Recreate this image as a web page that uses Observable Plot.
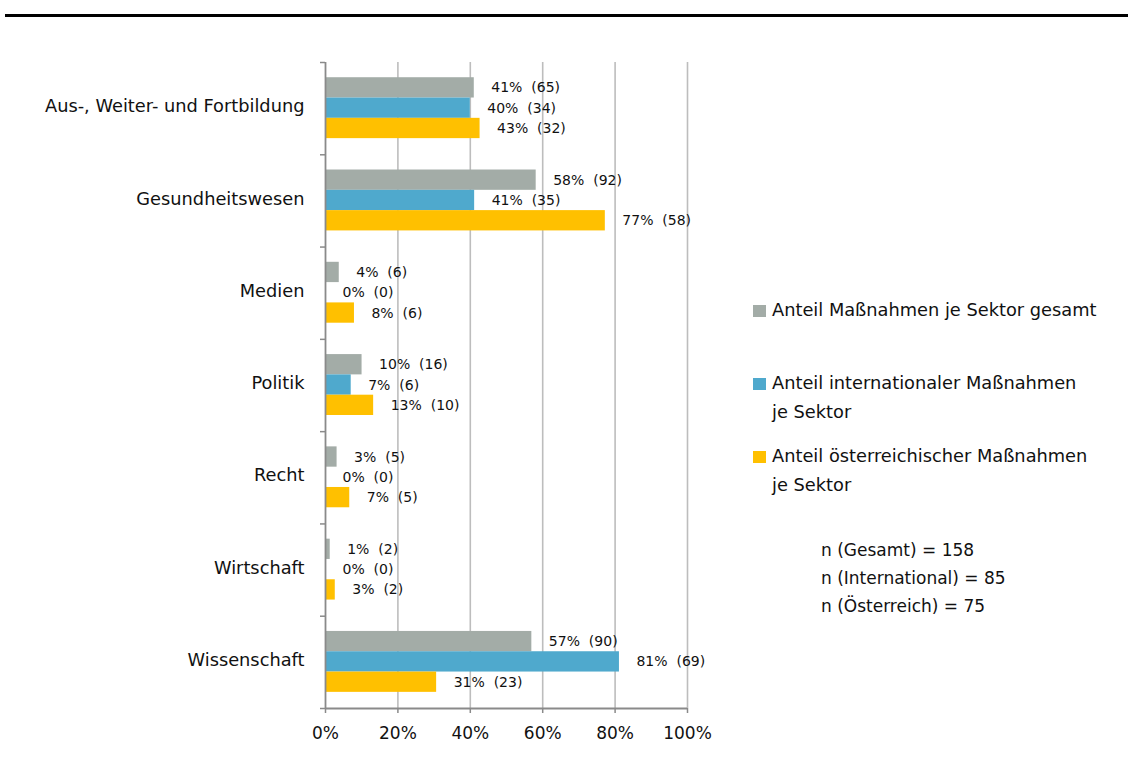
<!DOCTYPE html>
<html>
<head>
<meta charset="utf-8">
<script src="https://cdn.jsdelivr.net/npm/d3@7"></script>
<script src="https://cdn.jsdelivr.net/npm/@observablehq/plot@0.6"></script>
<style>
  html, body { margin: 0; padding: 0; background: #fff; }
  #page { position: relative; width: 1128px; height: 766px; overflow: hidden; font-family: "DejaVu Sans", sans-serif; color: #111; }
  #toprule { position: absolute; left: 5px; right: 0; top: 14px; height: 3px; background: #000; }
  #chart { position: absolute; left: 0; top: 0; }
  #chart svg text { white-space: pre; }
  .leg { position: absolute; left: 753px; font-size: 17.8px; line-height: 28.5px; white-space: nowrap; }
  .leg .sw { position: absolute; left: 0; top: 9px; width: 13px; height: 12px; }
  .leg .tx { margin-left: 19px; }
  #nblock { position: absolute; left: 821px; top: 536px; font-size: 17px; line-height: 28px; white-space: nowrap; }
</style>
</head>
<body>
<div id="page">
  <div id="toprule"></div>
  <div id="chart"></div>
  <div id="legend"></div>
  <div id="nblock"></div>
</div>
<script>
// ---- data ----
const categories = ["Aus-, Weiter- und Fortbildung", "Gesundheitswesen", "Medien", "Politik", "Recht", "Wirtschaft", "Wissenschaft"];
const seriesNames = ["Anteil Maßnahmen je Sektor gesamt", "Anteil internationaler Maßnahmen je Sektor", "Anteil österreichischer Maßnahmen je Sektor"];
const legendLines = [["Anteil Maßnahmen je Sektor gesamt"], ["Anteil internationaler Maßnahmen", "je Sektor"], ["Anteil österreichischer Maßnahmen", "je Sektor"]];
const shareGesamt = [41.1, 58.2, 3.8, 10.1, 3.2, 1.3, 57.0];
const shareIntl   = [40.0, 41.2, 0.0, 7.1, 0.0, 0.0, 81.2];
const shareAT     = [42.7, 77.3, 8.0, 13.3, 6.7, 2.7, 30.7];
const countGesamt = [65, 92, 6, 16, 5, 2, 90];
const countIntl   = [34, 35, 0, 6, 0, 0, 69];
const countAT     = [32, 58, 6, 10, 5, 2, 23];
const xTicks = [0, 20, 40, 60, 80, 100];
const nLines = ["n (Gesamt) = 158", "n (International) = 85", "n (Österreich) = 75"];
const colors = ["#a3aca7", "#4fa9cd", "#ffc000"];

// ---- build table ----
const shares = [shareGesamt, shareIntl, shareAT];
const counts = [countGesamt, countIntl, countAT];
const barH = 0.22, barPad = 0.165;
const rows = [];
categories.forEach((cat, i) => {
  seriesNames.forEach((s, k) => {
    const v = shares[k][i];
    rows.push({
      cat, series: s, value: v,
      y1: i + barPad + k * barH, y2: i + barPad + (k + 1) * barH,
      label: `${Math.round(v)}%  (${counts[k][i]})`
    });
  });
});

const gridColor = "#bdbdbd", axisColor = "#8a8a8a";
const chart = Plot.plot({
  width: 740, height: 766,
  marginLeft: 325, marginRight: 53, marginTop: 62, marginBottom: 58,
  style: { fontFamily: "DejaVu Sans, sans-serif", color: "#111", background: "transparent" },
  x: { domain: [0, 100] },
  y: { domain: [0, categories.length], reverse: true },
  color: { domain: seriesNames, range: colors },
  marks: [
    Plot.ruleX(xTicks.slice(1), { stroke: gridColor, strokeWidth: 1.6 }),
    Plot.rectX(rows, { x1: 0, x2: "value", y1: "y1", y2: "y2", fill: "series" }),
    Plot.text(rows, { x: "value", y: d => (d.y1 + d.y2) / 2, text: "label", dx: 17, textAnchor: "start", fontSize: 14, fill: "#111" }),
    Plot.ruleX([0], { stroke: axisColor, strokeWidth: 1.8 }),
    Plot.ruleY([categories.length], { stroke: axisColor, strokeWidth: 1.8 }),
    Plot.axisY(d3.range(categories.length + 1), { tickSize: 5, tickFormat: () => "", stroke: axisColor, strokeWidth: 1.5, label: null }),
    Plot.axisY(categories.map((c, i) => i + 0.5), { tickSize: 0, tickPadding: 21, tickFormat: v => categories[Math.floor(v)], fontSize: 17.8, dy: -2, label: null }),
    Plot.axisX(xTicks, { tickSize: 5, tickPadding: 13, tickFormat: d => d + "%", fontSize: 17, stroke: axisColor, strokeWidth: 1.5, label: null })
  ]
});
document.getElementById("chart").appendChild(chart);

// ---- legend ----
const legend = document.getElementById("legend");
const legendTops = [296, 369, 442];
legendLines.forEach((lines, k) => {
  const item = document.createElement("div");
  item.className = "leg";
  item.style.top = legendTops[k] + "px";
  const sw = document.createElement("div");
  sw.className = "sw";
  sw.style.background = colors[k];
  item.appendChild(sw);
  lines.forEach(t => {
    const d = document.createElement("div");
    d.className = "tx";
    d.textContent = t;
    item.appendChild(d);
  });
  legend.appendChild(item);
});
const nb = document.getElementById("nblock");
nLines.forEach(t => { const d = document.createElement("div"); d.textContent = t; nb.appendChild(d); });
</script>
</body>
</html>
